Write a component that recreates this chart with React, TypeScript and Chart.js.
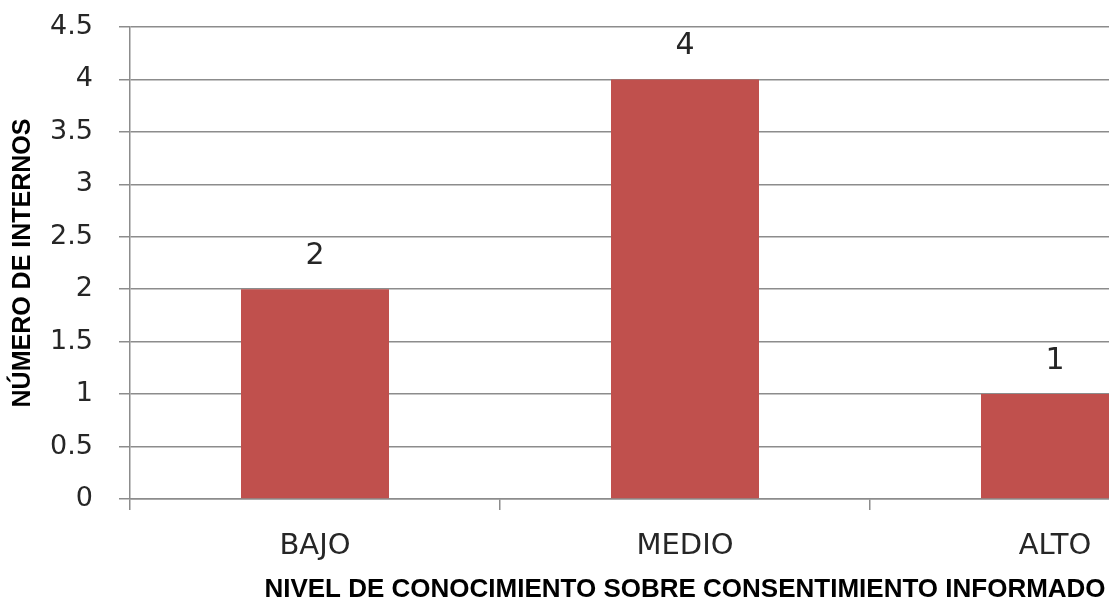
import React, { useEffect, useRef } from "react";
import { Chart, registerables } from "chart.js";

Chart.register(...registerables);

// Data
const categories = ["BAJO", "MEDIO", "ALTO"];
const internos = [2, 4, 1];
const yMin = 0;
const yMax = 4.5;
const yStep = 0.5;
const xTitle = "NIVEL DE CONOCIMIENTO SOBRE CONSENTIMIENTO INFORMADO";
const yTitle = "NÚMERO DE INTERNOS";

const BAR_COLOR = "#C0504D";
const GRID_COLOR = "#8c8c8c";
const TEXT_COLOR = "#262626";

// Draws the value above each bar
const valueLabels = {
  id: "valueLabels",
  afterDatasetsDraw(chart: any) {
    const { ctx } = chart;
    const meta = chart.getDatasetMeta(0);
    const data = chart.data.datasets[0].data as number[];
    ctx.save();
    ctx.font = "30px 'DejaVu Sans'";
    ctx.fillStyle = TEXT_COLOR;
    ctx.textAlign = "center";
    ctx.textBaseline = "alphabetic";
    meta.data.forEach((bar: any, i: number) => {
      ctx.fillText(String(data[i]), bar.x, bar.y - 25);
    });
    ctx.restore();
  },
};

export default function App() {
  const canvasRef = useRef<HTMLCanvasElement | null>(null);

  useEffect(() => {
    if (!canvasRef.current) return;
    const chart = new Chart(canvasRef.current, {
      type: "bar",
      data: {
        labels: categories,
        datasets: [
          {
            data: internos,
            backgroundColor: BAR_COLOR,
            borderWidth: 0,
            categoryPercentage: 1,
            barPercentage: 0.4,
          },
        ],
      },
      options: {
        animation: false,
        responsive: false,
        layout: { padding: { top: 27, left: 0, right: 0, bottom: 0 } },
        plugins: {
          legend: { display: false },
          tooltip: { enabled: false },
        },
        scales: {
          x: {
            offset: true,
            afterFit: (scale: any) => {
              scale.height = 104;
              scale.paddingLeft = 0;
              scale.paddingRight = 0;
            },
            grid: {
              offset: true,
              drawOnChartArea: false,
              drawTicks: true,
              tickLength: 11,
              color: GRID_COLOR,
              lineWidth: 1.5,
            },
            border: { display: true, color: GRID_COLOR, width: 1.5 },
            ticks: {
              padding: 19,
              color: TEXT_COLOR,
              font: { family: "'DejaVu Sans'", size: 29 },
              maxRotation: 0,
            },
            title: {
              display: true,
              text: xTitle,
              color: "#000",
              font: { family: "'Liberation Sans'", size: 26, weight: "bold", lineHeight: 1 },
              padding: { top: 0, bottom: 0 },
            },
          },
          y: {
            min: yMin,
            max: yMax,
            afterFit: (scale: any) => {
              scale.width = 130;
              scale.paddingTop = 0;
              scale.paddingBottom = 0;
            },
            grid: {
              color: GRID_COLOR,
              lineWidth: 1.5,
              drawTicks: true,
              tickLength: 11,
            },
            border: { display: true, color: GRID_COLOR, width: 1.5 },
            ticks: {
              stepSize: yStep,
              padding: 26,
              color: TEXT_COLOR,
              font: { family: "'DejaVu Sans'", size: 27 },
              callback: (v: any) => String(v),
            },
            title: {
              display: true,
              text: yTitle,
              color: "#000",
              font: { family: "'Liberation Sans'", size: 25, weight: "bold", lineHeight: 1 },
              padding: { top: 11, bottom: 0 },
            },
          },
        },
      },
      plugins: [valueLabels],
    });
    return () => chart.destroy();
  }, []);

  return (
    <div style={{ width: 1109, height: 603, overflow: "hidden", background: "#fff" }}>
      <style>{"body{margin:0;overflow:hidden;background:#fff}"}</style>
      <canvas ref={canvasRef} width={1240} height={603} />
    </div>
  );
}
